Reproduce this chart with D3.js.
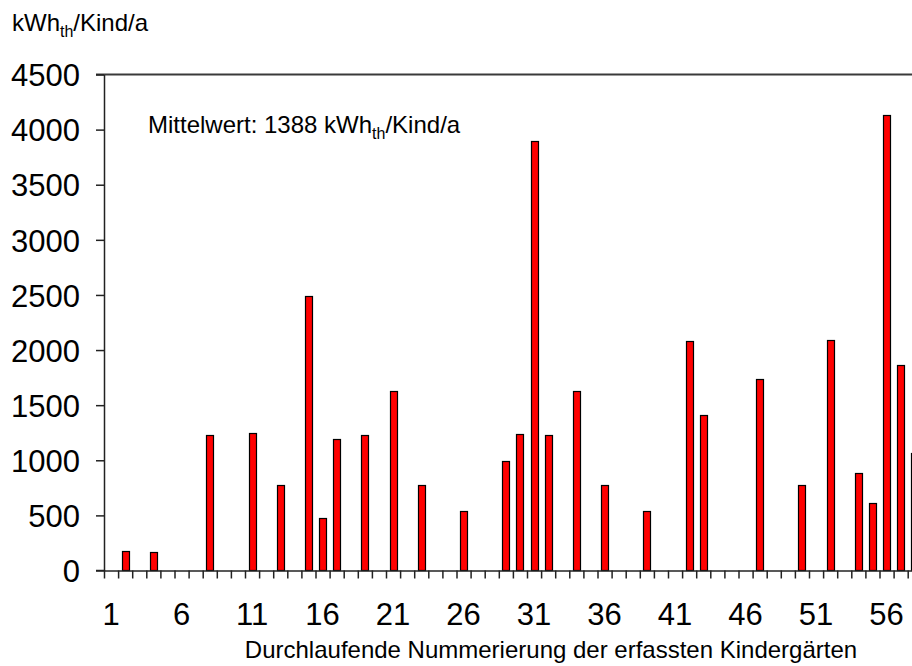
<!DOCTYPE html>
<html>
<head>
<meta charset="utf-8">
<script src="https://cdn.jsdelivr.net/npm/d3@7"></script>
<style>
  html, body { margin: 0; padding: 0; background: #fff; overflow: hidden; }
  text { font-family: "Liberation Sans", Arial, sans-serif; fill: #000; }
</style>
</head>
<body>
<svg id="chart" width="912" height="666"></svg>
<script>
// category axis: numbered kindergartens (axis runs past the right edge)
var categoryCount = 60;
var labelledNumbers = [1, 6, 11, 16, 21, 26, 31, 36, 41, 46, 51, 56];

// kindergartens with a value and their heat demand in kWh_th per child and year
var kindergartenNo = [2, 4, 8, 11, 13, 15, 16, 17, 19, 21, 23, 26, 29, 30, 31,
                      32, 34, 36, 39, 42, 43, 47, 50, 52, 54, 55, 56, 57, 58];
var heatPerChild = [180, 165, 1227, 1250, 779, 2488, 476, 1196, 1227, 1631, 779, 543, 996, 1238, 3899,
                    1227, 1631, 779, 543, 2082, 1414, 1741, 779, 2091, 888, 615, 4133, 1867, 1063];

var yTicks = [0, 500, 1000, 1500, 2000, 2500, 3000, 3500, 4000, 4500];
var meanValue = 1388;

var svg = d3.select("#chart");

var margin = { top: 74.5, left: 104 };
var baseY = 570.5;
var step = 14.1;

var yScale = d3.scaleLinear()
    .domain([0, 4500])
    .range([baseY, margin.top]);

var xBand = d3.scaleBand()
    .domain(d3.range(1, categoryCount + 1))
    .range([margin.left, margin.left + step * categoryCount])
    .paddingInner(0.5)
    .paddingOuter(0.25);

var xBound = d3.scaleLinear()
    .domain([0, categoryCount])
    .range([margin.left, margin.left + step * categoryCount]);

// top frame line
svg.append("line")
    .attr("x1", margin.left - 8).attr("x2", 930)
    .attr("y1", margin.top).attr("y2", margin.top)
    .attr("stroke", "#3a3a3a").attr("stroke-width", 2);

// bars
var bars = kindergartenNo.map((k, i) => ({ k: k, v: heatPerChild[i] }));

svg.append("g").selectAll("rect")
    .data(bars)
    .enter()
    .append("rect")
    .attr("x", d => Math.round(xBand(d.k)) + 0.5)
    .attr("y", d => Math.round(yScale(d.v)) + 0.5)
    .attr("width", Math.round(xBand.bandwidth()))
    .attr("height", d => baseY - Math.round(yScale(d.v)) - 0.5)
    .attr("fill", "#ff0000")
    .attr("stroke", "#000")
    .attr("stroke-width", 1.2);

// y axis
var yAxis = svg.append("g")
    .attr("transform", "translate(" + margin.left + ",0)")
    .call(d3.axisLeft(yScale).tickValues(yTicks).tickFormat(d3.format("d"))
        .tickSize(8).tickSizeOuter(0).tickPadding(16));
yAxis.select(".domain").attr("stroke", "#222").attr("stroke-width", 1.5);
yAxis.selectAll(".tick line").attr("stroke", "#222").attr("stroke-width", 1.5);
yAxis.selectAll("text")
    .style("font-size", "31px")
    .attr("dy", "0.36em");

// x axis: ticks on the category boundaries
var xAxis = svg.append("g")
    .attr("transform", "translate(0," + baseY + ")")
    .call(d3.axisBottom(xBound).tickValues(d3.range(0, categoryCount + 1)).tickFormat("").tickSize(8).tickSizeOuter(0));
xAxis.select(".domain").attr("stroke", "#222").attr("stroke-width", 1.5);
xAxis.selectAll(".tick line").attr("stroke", "#222").attr("stroke-width", 1.5);

// baseline runs a little to the left of the y axis
svg.append("line")
    .attr("x1", margin.left - 8).attr("x2", margin.left)
    .attr("y1", baseY).attr("y2", baseY)
    .attr("stroke", "#222").attr("stroke-width", 1.5);

// category labels on the band centres
var xLabels = svg.append("g")
    .attr("transform", "translate(0," + baseY + ")")
    .call(d3.axisBottom(xBand).tickValues(labelledNumbers).tickSize(0).tickPadding(32));
xLabels.select(".domain").remove();
xLabels.selectAll("text").style("font-size", "31px");

// y axis unit
var unit = svg.append("text")
    .attr("x", 12).attr("y", 31)
    .style("font-size", "24px");
unit.append("tspan").text("kWh");
unit.append("tspan").attr("dy", 6).style("font-size", "16px").text("th");
unit.append("tspan").attr("dy", -6).text("/Kind/a");

// mean value note
var note = svg.append("text")
    .attr("x", 148).attr("y", 133)
    .style("font-size", "24px");
note.append("tspan").text("Mittelwert: " + meanValue + " kWh");
note.append("tspan").attr("dy", 6).style("font-size", "16px").text("th");
note.append("tspan").attr("dy", -6).text("/Kind/a");

// x axis title
svg.append("text")
    .attr("x", 551).attr("y", 658)
    .attr("text-anchor", "middle")
    .style("font-size", "24px")
    .text("Durchlaufende Nummerierung der erfassten Kindergärten");
</script>
</body>
</html>
